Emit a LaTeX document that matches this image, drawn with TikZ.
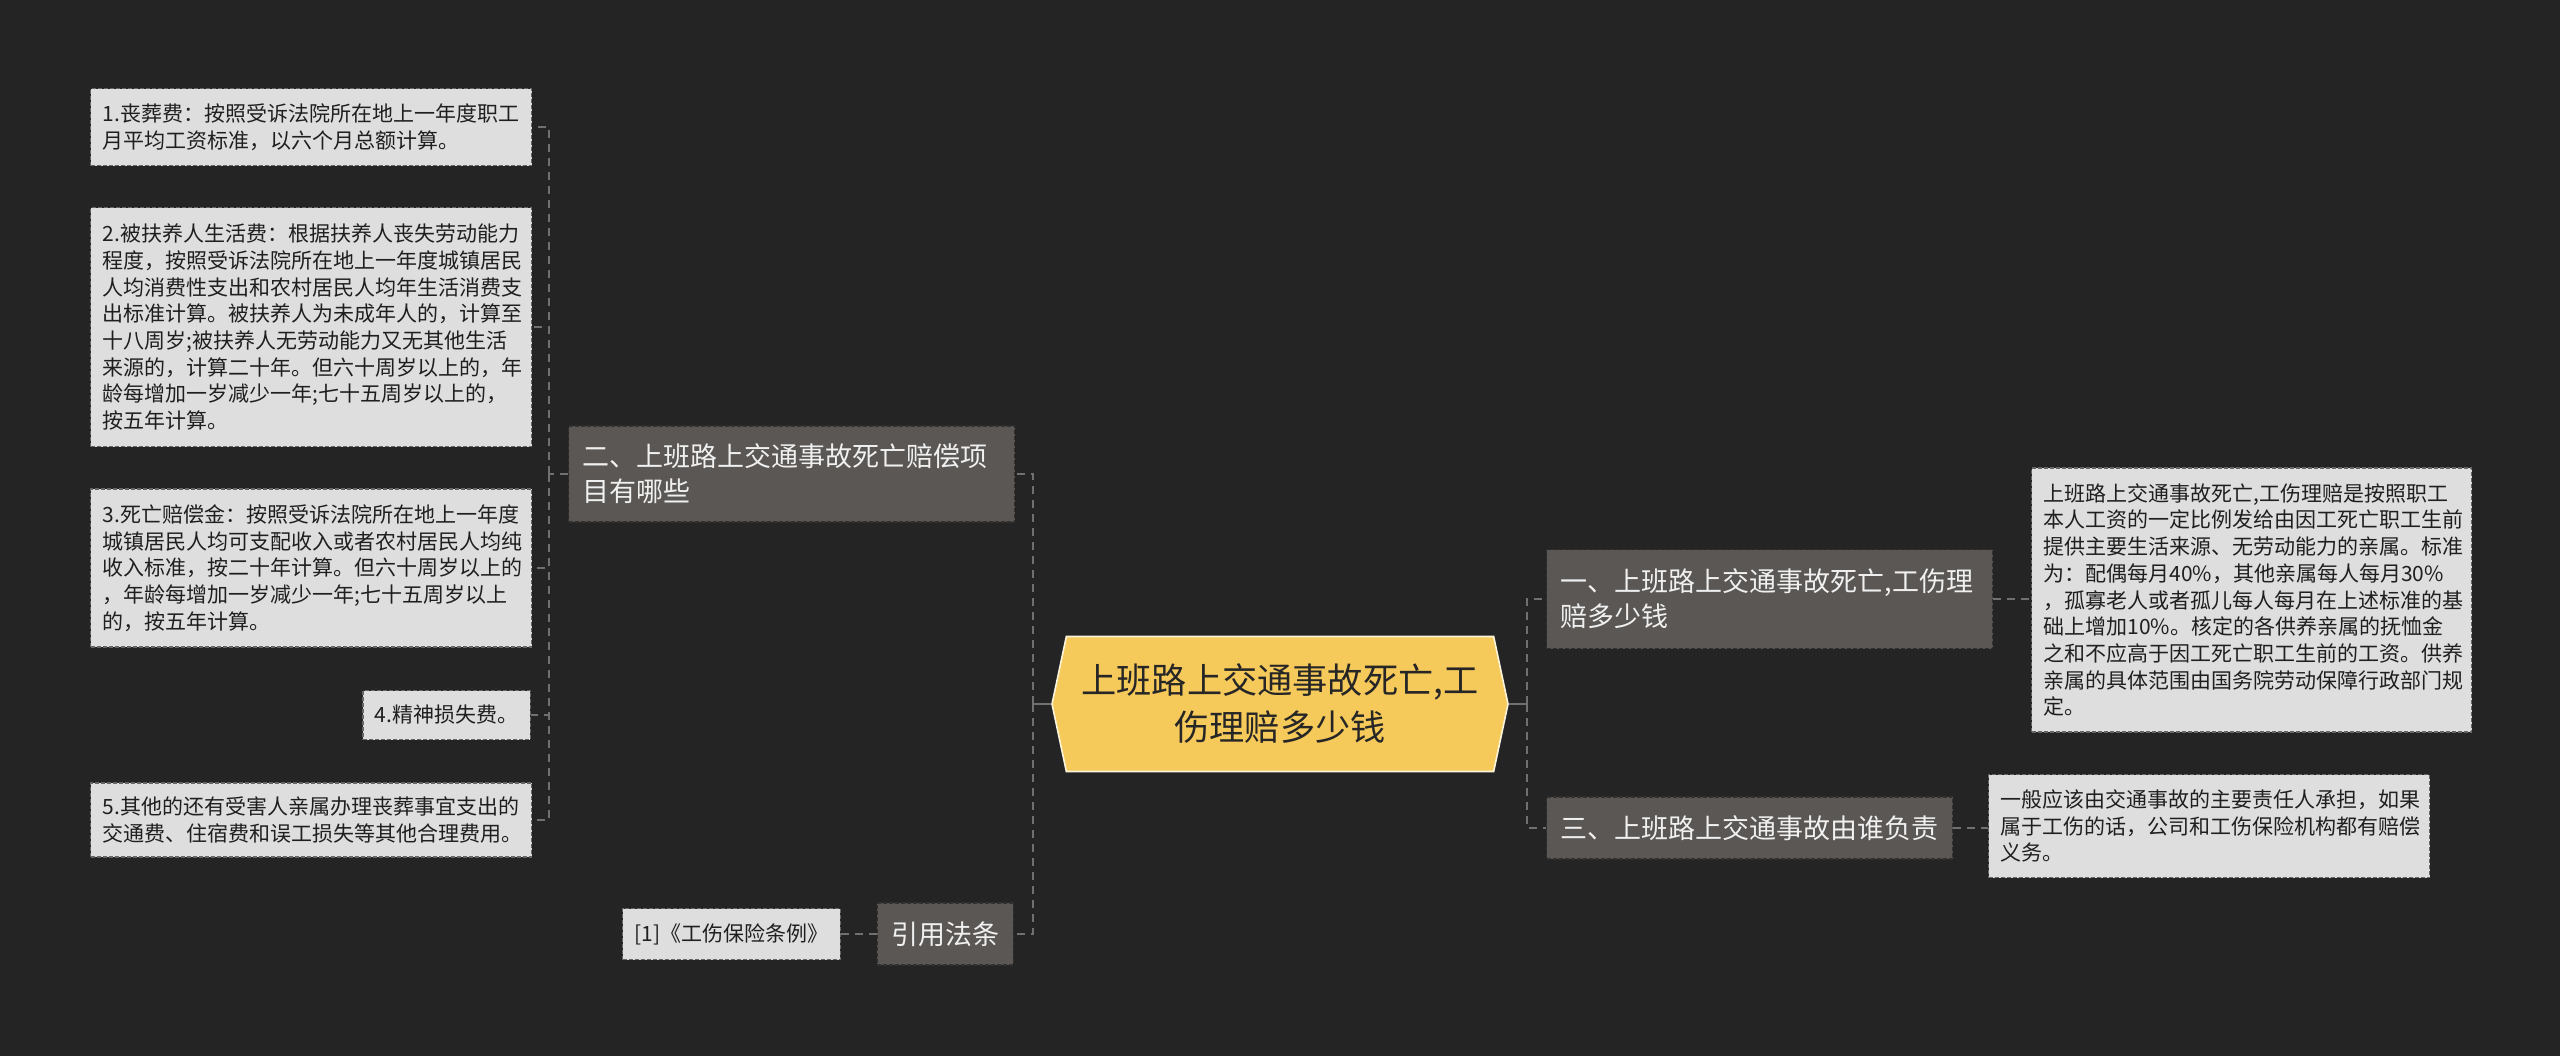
\documentclass[tikz,border=0pt]{standalone}
\usepackage{fontspec}
\setmainfont{Noto Sans CJK SC}
\usetikzlibrary{shapes.symbols}

\definecolor{bgcol}{HTML}{242424}
\definecolor{branchcol}{HTML}{5A5755}
\definecolor{leafcol}{HTML}{DEDEDE}
\definecolor{rootcol}{HTML}{F5C95A}
\definecolor{linecol}{HTML}{707070}

\tikzset{
  leafbox/.style={draw=black!60, dash pattern=on 2pt off 1pt, line width=0.6pt, fill=leafcol, text=black!88,
    font=\fontsize{10.5pt}{13.35pt}\selectfont, inner xsep=6pt, inner ysep=0pt, align=left},
  branchbox/.style={draw=black!45!branchcol, dash pattern=on 2pt off 1pt, line width=0.6pt, fill=branchcol, text=white!94!black,
    font=\fontsize{13.5pt}{17.5pt}\selectfont, inner xsep=7pt, inner ysep=0pt, align=left},
  rootbox/.style={shape=signal, signal to=west and east, signal pointer angle=156, fill=rootcol,
    draw=white!80!rootcol, line width=0.8pt, text=black!85, font=\fontsize{17.6pt}{23.5pt}\selectfont, align=center},
  conn/.style={draw=linecol, line width=1pt, dash pattern=on 4pt off 3pt},
  link/.style={draw=linecol, line width=1.2pt},
}

\begin{document}
\begin{tikzpicture}[x=0.5pt, y=-0.5pt]
\useasboundingbox[fill=bgcol] (0,0) rectangle (2560,1056);

% centre
\node[rootbox, minimum width=228pt, minimum height=67.5pt] (root) at (1280,704) {上班路上交通事故死亡,工\\伤理赔多少钱};

% left side
\node[branchbox, anchor=west, text width=209pt, minimum height=48pt] (two) at (568,474) {二、上班路上交通事故死亡赔偿项\\目有哪些};
\node[branchbox, anchor=east, minimum width=68pt, minimum height=31pt, align=center] (cite) at (1014,934) {引用法条};
\node[leafbox, anchor=east, minimum width=108pt, minimum height=25.5pt, align=center] (law) at (841,934) {[1]《工伤保险条例》};

\node[leafbox, anchor=west, text width=208.5pt, minimum height=38.5pt] (fee1) at (90,127) {1.丧葬费：按照受诉法院所在地上一年度职工\\月平均工资标准，以六个月总额计算。};
\node[leafbox, anchor=west, text width=208.5pt, minimum height=119.5pt] (fee2) at (90,327) {2.被扶养人生活费：根据扶养人丧失劳动能力\\程度，按照受诉法院所在地上一年度城镇居民\\人均消费性支出和农村居民人均年生活消费支\\出标准计算。被扶养人为未成年人的，计算至\\十八周岁;被扶养人无劳动能力又无其他生活\\来源的，计算二十年。但六十周岁以上的，年\\龄每增加一岁减少一年;七十五周岁以上的，\\按五年计算。};
\node[leafbox, anchor=west, text width=208.5pt, minimum height=79pt] (fee3) at (90,568) {3.死亡赔偿金：按照受诉法院所在地上一年度\\城镇居民人均可支配收入或者农村居民人均纯\\收入标准，按二十年计算。但六十周岁以上的\\，年龄每增加一岁减少一年;七十五周岁以上\\的，按五年计算。};
\node[leafbox, anchor=east, minimum height=24.5pt] (fee4) at (531,715) {4.精神损失费。};
\node[leafbox, anchor=west, text width=208.5pt, minimum height=37pt] (fee5) at (90,820) {5.其他的还有受害人亲属办理丧葬事宜支出的\\交通费、住宿费和误工损失等其他合理费用。};

% right side
\node[branchbox, anchor=west, text width=209pt, minimum height=49.5pt] (one) at (1546,599) {一、上班路上交通事故死亡,工伤理\\赔多少钱};
\node[branchbox, anchor=west, text width=189pt, minimum height=31pt] (three) at (1546,828) {三、上班路上交通事故由谁负责};

\node[leafbox, anchor=west, text width=208pt, minimum height=132pt] (pay) at (2031,600) {上班路上交通事故死亡,工伤理赔是按照职工\\本人工资的一定比例发给由因工死亡职工生前\\提供主要生活来源、无劳动能力的亲属。标准\\为：配偶每月40\%，其他亲属每人每月30\%\\，孤寡老人或者孤儿每人每月在上述标准的基\\础上增加10\%。核定的各供养亲属的抚恤金\\之和不应高于因工死亡职工生前的工资。供养\\亲属的具体范围由国务院劳动保障行政部门规\\定。};
\node[leafbox, anchor=west, text width=208.5pt, minimum height=51.5pt] (duty) at (1988,826) {一般应该由交通事故的主要责任人承担，如果\\属于工伤的话，公司和工伤保险机构都有赔偿\\义务。};

% connectors
\coordinate (jl) at (549,474);
\coordinate (jm) at (1033,704);
\coordinate (jr) at (1527,704);

\draw[link] (root.west) -- (jm);
\draw[link] (root.east) -- (jr);
\draw[conn] (jm) |- (two.east);
\draw[conn] (jm) |- (cite.east);
\draw[conn] (jr) |- (one.west);
\draw[conn] (jr) |- (three.west);
\draw[conn] (two.west) -- (jl);
\foreach \n in {fee1,fee2,fee3,fee4,fee5} \draw[conn] (jl) |- (\n.east);
\draw[conn] (cite.west) -- (law.east);
\draw[conn] (one.east) -- (pay.west |- one.east);
\draw[conn] (three.east) -- (duty.west |- three.east);
\end{tikzpicture}
\end{document}
